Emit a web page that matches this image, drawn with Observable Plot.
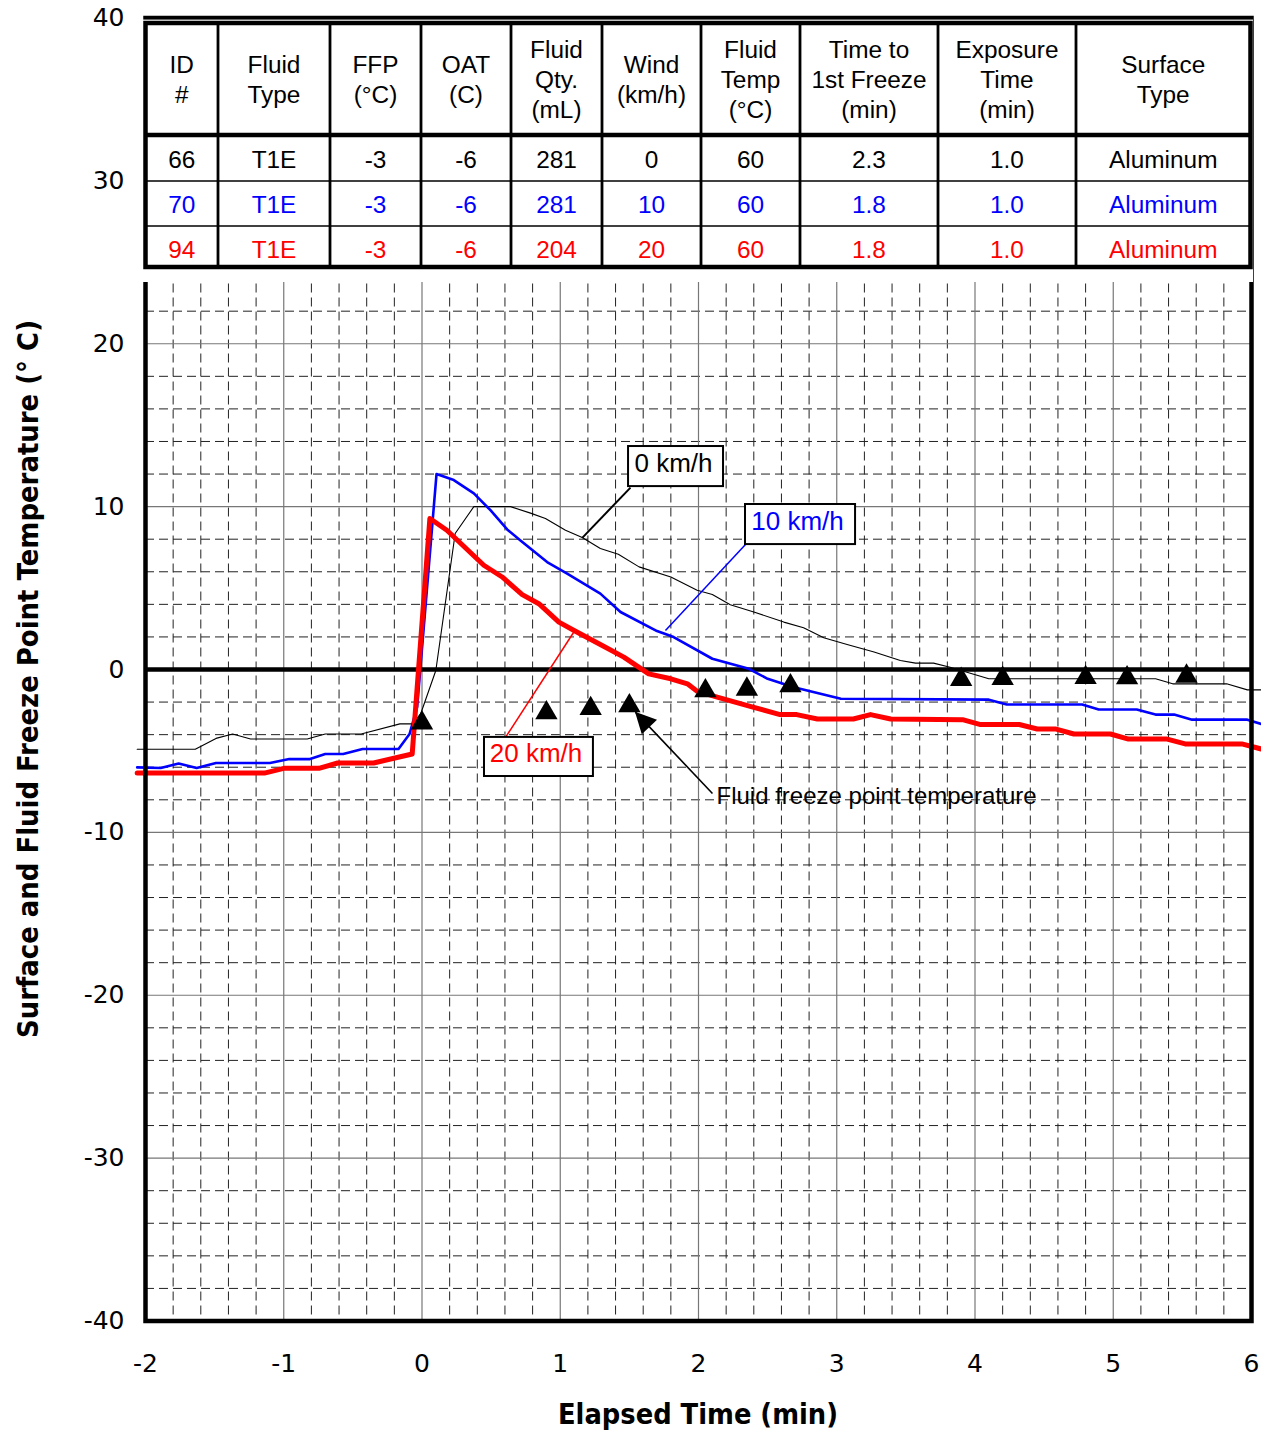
<!DOCTYPE html>
<html><head><meta charset="utf-8">
<script src="https://cdn.jsdelivr.net/npm/d3@7"></script>
<script src="https://cdn.jsdelivr.net/npm/@observablehq/plot@0.6"></script>
<style>body{margin:0;background:#fff;} #chart{position:relative;width:1261px;height:1431px;}</style>
</head><body><div id="chart"></div>
<script>
// ---------------- data ----------------
const xTicks = [-2, -1, 0, 1, 2, 3, 4, 5, 6];
const yTicks = [-40, -30, -20, -10, 0, 10, 20, 30, 40];

// 0 km/h (ID 66)
const wind0X = [-2.06, -1.64, -1.49, -1.37, -1.24, -0.83, -0.70, -0.44, -0.16, -0.07, -0.01, 0.10, 0.24, 0.375, 0.64, 0.785, 0.893, 1.038, 1.159, 1.29, 1.42, 1.57, 1.80, 1.99, 2.10, 2.23, 2.40, 2.617, 2.76, 2.906, 3.075, 3.27, 3.46, 3.57, 3.70, 3.82, 4.10, 5.306, 5.43, 5.82, 5.97, 6.07];
const wind0Y = [-4.9, -4.9, -4.23, -3.96, -4.27, -4.27, -3.96, -3.96, -3.34, -3.34, -2.73, -0.06, 8.35, 10.0, 10.0, 9.6, 9.27, 8.55, 8.1, 7.43, 7.08, 6.3, 5.68, 4.86, 4.6, 3.98, 3.53, 2.91, 2.56, 1.95, 1.54, 1.07, 0.55, 0.39, 0.39, 0.14, -0.57, -0.57, -0.88, -0.88, -1.25, -1.25];

// 10 km/h (ID 70)
const wind10X = [-2.06, -1.89, -1.76, -1.63, -1.49, -1.10, -0.96, -0.81, -0.70, -0.57, -0.43, -0.17, -0.09, -0.035, 0.105, 0.23, 0.375, 0.495, 0.616, 0.71, 0.905, 1.05, 1.29, 1.436, 1.70, 1.82, 2.10, 2.364, 2.50, 2.69, 3.03, 4.10, 4.23, 4.775, 4.895, 5.17, 5.306, 5.44, 5.57, 5.97, 6.07];
const wind10Y = [-6.01, -6.05, -5.77, -6.05, -5.74, -5.74, -5.5, -5.5, -5.19, -5.19, -4.88, -4.88, -3.96, -2.3, 12.0, 11.63, 10.81, 9.78, 8.6, 7.94, 6.6, 5.89, 4.66, 3.53, 2.36, 1.99, 0.66, 0.04, -0.57, -1.09, -1.80, -1.85, -2.15, -2.15, -2.46, -2.46, -2.77, -2.77, -3.08, -3.08, -3.34];

// 20 km/h (ID 94)
const wind20X = [-2.06, -1.14, -1.0, -0.746, -0.61, -0.35, -0.071, 0.057, 0.18, 0.447, 0.58, 0.725, 0.845, 0.99, 1.12, 1.29, 1.46, 1.64, 1.80, 1.92, 1.99, 2.135, 2.40, 2.59, 2.71, 2.86, 3.12, 3.244, 3.39, 3.91, 4.04, 4.32, 4.45, 4.58, 4.715, 4.98, 5.11, 5.39, 5.52, 5.93, 6.07];
const wind20Y = [-6.36, -6.36, -6.07, -6.07, -5.74, -5.74, -5.19, 9.27, 8.55, 6.4, 5.68, 4.6, 4.04, 2.91, 2.30, 1.54, 0.76, -0.27, -0.57, -0.88, -1.33, -1.70, -2.32, -2.77, -2.77, -3.04, -3.04, -2.77, -3.04, -3.08, -3.38, -3.38, -3.65, -3.65, -3.96, -3.96, -4.27, -4.27, -4.57, -4.57, -4.88];

// fluid freeze point temperature
const ffpX = [0.0, 0.90, 1.22, 1.50, 2.05, 2.35, 2.665, 3.90, 4.20, 4.80, 5.10, 5.53];
const ffpY = [-3.1, -2.48, -2.22, -2.05, -1.13, -1.03, -0.82, -0.43, -0.37, -0.31, -0.33, -0.23];

// table
const tableHeaders = ["ID\n#", "Fluid\nType", "FFP\n(°C)", "OAT\n(C)", "Fluid\nQty.\n(mL)", "Wind\n(km/h)", "Fluid\nTemp\n(°C)", "Time to\n1st Freeze\n(min)", "Exposure\nTime\n(min)", "Surface\nType"];
const tableRow66 = ["66", "T1E", "-3", "-6", "281", "0", "60", "2.3", "1.0", "Aluminum"];
const tableRow70 = ["70", "T1E", "-3", "-6", "281", "10", "60", "1.8", "1.0", "Aluminum"];
const tableRow94 = ["94", "T1E", "-3", "-6", "204", "20", "60", "1.8", "1.0", "Aluminum"];

// annotation labels
const labelText = ["0 km/h", "10 km/h", "20 km/h"];
const labelX = [1.819, 2.716, 0.825];
const labelY = [12.64, 9.08, -5.19];
const boxX1 = [1.494, 2.34, 0.452], boxX2 = [2.181, 3.136, 1.24];
const boxY1 = [11.23, 7.67, -6.57], boxY2 = [13.69, 10.13, -4.17];
const leaderX1 = [1.508, 2.34, 0.604], leaderY1 = [11.17, 7.67, -4.17];
const leaderX2 = [1.159, 1.761, 1.096], leaderY2 = [8.08, 2.39, 2.27];
const arrowTail = [2.101, -7.61], arrowTip = [1.544, -2.62];
const ffpLabel = {text: "Fluid freeze point temperature", x: 2.13, y: -7.8};

// ---------------- styling ----------------
const C0 = "#000000", C10 = "#0000ff", C20 = "#ff0000";
const colors = [C0, C10, C20];
const W = 1261, H = 1431;

const toRows = (xs, ys) => xs.map((x, i) => ({x, y: ys[i]}));
const s0 = toRows(wind0X, wind0Y), s10 = toRows(wind10X, wind10Y), s20 = toRows(wind20X, wind20Y);
const ffp = toRows(ffpX, ffpY);
const labels = labelText.map((t, i) => ({t, x: labelX[i], y: labelY[i], x1: boxX1[i], x2: boxX2[i], y1: boxY1[i], y2: boxY2[i],
  lx1: leaderX1[i], ly1: leaderY1[i], lx2: leaderX2[i], ly2: leaderY2[i], c: colors[i], w: i === 0 ? 2 : 1.5}));

const minorX = d3.range(-10, 31).filter(i => i % 5 !== 0).map(i => i / 5);
const minorY = d3.range(-20, 21).filter(i => i % 5 !== 0).map(i => i * 2);
const majorY = yTicks.filter(v => v !== 0 && Math.abs(v) !== 40);
const majorX = xTicks.filter(v => v !== -2 && v !== 6);

const plot = Plot.plot({
  width: W, height: H,
  marginLeft: 145, marginRight: 10, marginTop: 17.5, marginBottom: 110.5,
  style: {fontFamily: "'DejaVu Sans', sans-serif", fontSize: "25px", background: "#fff", color: "#000"},
  x: {domain: [-2, 6]},
  y: {domain: [-40, 40]},
  marks: [
    Plot.ruleX(minorX, {stroke: "#222", strokeWidth: 1, strokeDasharray: "9,5"}),
    Plot.ruleY(minorY, {stroke: "#222", strokeWidth: 1, strokeDasharray: "9,5"}),
    Plot.ruleX(majorX, {stroke: "#777", strokeWidth: 1.2}),
    Plot.ruleY(majorY, {stroke: "#777", strokeWidth: 1.2}),
    Plot.ruleY([0], {stroke: "#000", strokeWidth: 4.5}),
    Plot.line(s0, {x: "x", y: "y", stroke: C0, strokeWidth: 1.1, strokeLinejoin: "round"}),
    Plot.line(s10, {x: "x", y: "y", stroke: C10, strokeWidth: 2.6, strokeLinejoin: "round"}),
    Plot.line(s20, {x: "x", y: "y", stroke: C20, strokeWidth: 5, strokeLinejoin: "round"}),
    Plot.frame({stroke: "#000", strokeWidth: 4.5}),
    Plot.dot(ffp, {x: "x", y: "y", symbol: "triangle", r: 8.3, fill: "#000", stroke: "none", dy: 3}),
    Plot.link(labels, {x1: "lx1", y1: "ly1", x2: "lx2", y2: "ly2", stroke: "c", strokeWidth: "w"}),
    Plot.rect(labels, {x1: "x1", x2: "x2", y1: "y1", y2: "y2", fill: "#fff", stroke: "#000", strokeWidth: 2}),
    Plot.text(labels, {x: "x", y: "y", text: "t", fill: "c", fontSize: 26, fontFamily: "'Liberation Sans', Arial, sans-serif"}),
    Plot.link([{x1: arrowTail[0], y1: arrowTail[1], x2: arrowTip[0], y2: arrowTip[1]}], {x1: "x1", y1: "y1", x2: "x2", y2: "y2", stroke: "#000", strokeWidth: 1.6}),
    Plot.text([ffpLabel], {x: "x", y: "y", text: "text", textAnchor: "start", fill: "#000", fontSize: 24, fontFamily: "'Liberation Sans', Arial, sans-serif"}),
    Plot.axisX({ticks: xTicks, tickFormat: d => String(d), tickSize: 0, tickPadding: 33, label: null, fill: "#000"}),
    Plot.axisY({ticks: yTicks, tickFormat: d => String(d), tickSize: 0, tickPadding: 21, label: null, fill: "#000"})
  ]
});

document.getElementById("chart").appendChild(plot);
const svg = d3.select(plot);
const sx = plot.scale("x"), sy = plot.scale("y");

// filled arrowhead at the tip of the freeze-point arrow
{
  const tx = sx.apply(arrowTip[0]), ty = sy.apply(arrowTip[1]);
  const bx = sx.apply(arrowTail[0]), by = sy.apply(arrowTail[1]);
  const len = Math.hypot(bx - tx, by - ty);
  const ux = (bx - tx) / len, uy = (by - ty) / len;
  const L = 21, hw = 10.5;
  const mx = tx + ux * L, my = ty + uy * L;
  const pts = [[tx, ty], [mx - uy * hw, my + ux * hw], [mx + uy * hw, my - ux * hw]];
  svg.append("polygon").attr("points", pts.map(p => p.join(",")).join(" ")).attr("fill", "#000");
}

// axis titles
svg.append("text").text("Elapsed Time (min)")
  .attr("x", 698).attr("y", 1424).attr("text-anchor", "middle")
  .attr("font-family", "'DejaVu Sans', sans-serif").attr("font-weight", "bold").attr("font-size", 29)
  .attr("textLength", 280).attr("lengthAdjust", "spacingAndGlyphs").attr("fill", "#000");
svg.append("text").text("Surface and Fluid Freeze Point Temperature (° C)")
  .attr("transform", "translate(38,679) rotate(-90)").attr("text-anchor", "middle")
  .attr("font-family", "'DejaVu Sans', sans-serif").attr("font-weight", "bold").attr("font-size", 29)
  .attr("textLength", 718).attr("lengthAdjust", "spacingAndGlyphs").attr("fill", "#000");

// data table overlay
{
  const colEdges = [145.5, 218, 330, 421, 511, 602, 701, 800, 938, 1076, 1250.5];
  const rowEdges = [23, 135, 181, 226, 267];
  const g = svg.append("g").attr("font-family", "'Liberation Sans', Arial, sans-serif").attr("font-size", 24.4);
  g.append("rect").attr("x", 143).attr("y", 19.6).attr("width", 1253 - 143).attr("height", 282 - 19.6).attr("fill", "#fff");
  [181, 226].forEach(y => g.append("line").attr("x1", colEdges[0]).attr("x2", colEdges[10]).attr("y1", y).attr("y2", y).attr("stroke", "#000").attr("stroke-width", 1.3));
  colEdges.slice(1, -1).forEach(x => g.append("line").attr("x1", x).attr("x2", x).attr("y1", rowEdges[0]).attr("y2", rowEdges[4]).attr("stroke", "#000").attr("stroke-width", 2.8));
  g.append("line").attr("x1", colEdges[0]).attr("x2", colEdges[10]).attr("y1", 135).attr("y2", 135).attr("stroke", "#000").attr("stroke-width", 4.5);
  g.append("rect").attr("x", colEdges[0]).attr("y", rowEdges[0]).attr("width", colEdges[10] - colEdges[0]).attr("height", rowEdges[4] - rowEdges[0])
    .attr("fill", "none").attr("stroke", "#000").attr("stroke-width", 4.5);
  const cx = i => (colEdges[i] + colEdges[i + 1]) / 2;
  tableHeaders.forEach((h, i) => {
    const lines = h.split("\n");
    const t = g.append("text").attr("text-anchor", "middle").attr("fill", "#000");
    lines.forEach((ln, k) => t.append("tspan").attr("x", cx(i)).attr("y", 79.5 - (lines.length - 1) * 15 + k * 30).attr("dy", "0.36em").text(ln));
  });
  const rowCenters = [159, 204, 249];
  [tableRow66, tableRow70, tableRow94].forEach((row, r) => {
    row.forEach((v, i) => g.append("text").attr("x", cx(i)).attr("y", rowCenters[r]).attr("dy", "0.36em")
      .attr("text-anchor", "middle").attr("fill", colors[r]).text(v));
  });
}
</script>
</body></html>
